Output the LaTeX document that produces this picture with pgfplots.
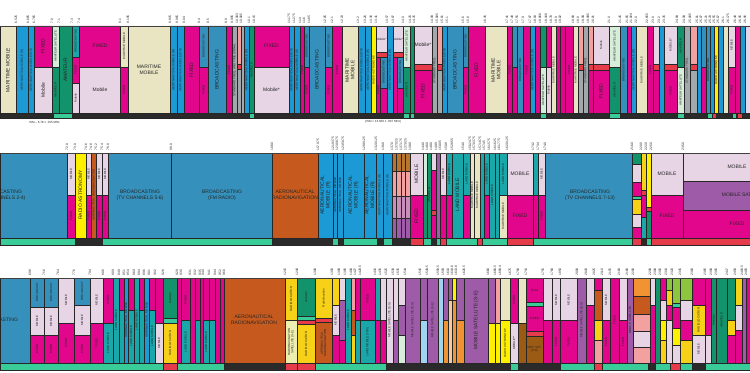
\documentclass[border=0pt]{standalone}
\usepackage{pgfplots}
\pgfplotsset{compat=1.18}
\usepackage{fontspec}
\setmainfont{Liberation Sans}
\definecolor{mm}{HTML}{E9E5C3}
\definecolor{am}{HTML}{1B9AD6}
\definecolor{bc}{HTML}{3591BC}
\definecolor{fx}{HTML}{E2068C}
\definecolor{mo}{HTML}{E7D5E6}
\definecolor{amt}{HTML}{12936B}
\definecolor{ams}{HTML}{D6EED9}
\definecolor{ylw}{HTML}{FFF000}
\definecolor{rl}{HTML}{F7D117}
\definecolor{arn}{HTML}{C65A1E}
\definecolor{ms}{HTML}{9E5BA7}
\definecolor{lm}{HTML}{19A7A9}
\definecolor{rd}{HTML}{E63B4A}
\definecolor{gy}{HTML}{A2A8AC}
\definecolor{sr}{HTML}{F3A1A0}
\definecolor{mint}{HTML}{39CC98}
\definecolor{dk}{HTML}{2A2A2A}
\definecolor{brn}{HTML}{9C5B14}
\definecolor{brn2}{HTML}{B7752E}
\definecolor{pv}{HTML}{C98DB9}
\definecolor{lb}{HTML}{9FD3EE}
\definecolor{org}{HTML}{F19233}
\definecolor{rns}{HTML}{EDEFB0}
\definecolor{ygr}{HTML}{8CC63E}
\definecolor{pch}{HTML}{F7C99A}
\newcommand{\Rc}[5]{\addplot[fill=#5,draw=black!85,line width=0.35pt] coordinates {(#1,#3) (#2,#3) (#2,#4) (#1,#4) (#1,#3)};}
\newcommand{\F}[3]{\node[fl] at (axis cs:#1,#2) {#3};}
\begin{document}
\begin{tikzpicture}[
  hl/.style={font=\fontsize{5}{5.6}\selectfont, align=center, inner sep=0pt, text=black!85},
  rlb/.style={hl, rotate=90},
  rs/.style={font=\fontsize{3}{3.4}\selectfont, align=center, inner sep=0pt, text=black!85, rotate=90},
  hs/.style={font=\fontsize{3}{3.4}\selectfont, align=center, inner sep=0pt, text=black!85},
  fl/.style={font=\fontsize{3.3}{3.6}\selectfont, rotate=90, anchor=west, inner sep=0.3pt, text=black!85},
]
\begin{axis}[
  width=750bp, height=372bp, scale only axis,
  xmin=0, xmax=750, ymin=0, ymax=372, y dir=reverse,
  hide axis, clip=true,
]
\addplot[fill=white,draw=none] coordinates {(0,0) (750,0) (750,372) (0,372) (0,0)};
% ================= ROW 1 =================
\Rc{0}{16}{26}{113}{mm}
\Rc{16}{28}{26}{113}{am}
\Rc{28}{34}{26}{113}{am}
\Rc{34}{52}{26}{67}{fx} \Rc{34}{52}{67}{113}{mo}
\Rc{52}{59}{26}{67}{ams} \Rc{52}{59}{67}{113}{amt}
\Rc{59}{72}{26}{113}{amt}
\Rc{72}{79}{26}{57}{lm} \Rc{72}{79}{57}{83}{fx} \Rc{72}{79}{83}{113}{mo}
\Rc{79}{120}{26}{67}{fx} \Rc{79}{120}{67}{113}{mo}
\Rc{120}{128}{26}{67}{mm} \Rc{120}{128}{67}{113}{fx}
\Rc{128}{170}{26}{113}{mm}
\Rc{170}{177}{26}{113}{am}
\Rc{177}{184}{26}{113}{am}
\Rc{184}{199}{26}{113}{fx}
\Rc{199}{208}{26}{67}{bc} \Rc{199}{208}{67}{113}{fx}
\Rc{208}{226}{26}{113}{bc}
\Rc{226}{232}{26}{113}{fx}
\Rc{232}{237}{26}{113}{gy}
\Rc{237}{241}{26}{64}{sr} \Rc{237}{241}{64}{69}{rd} \Rc{237}{241}{69}{113}{gy}
\Rc{241}{244}{26}{113}{gy}
\Rc{244}{249}{26}{113}{am}
\Rc{249}{254}{26}{113}{amt}
\Rc{254}{289}{26}{67}{fx} \Rc{254}{289}{67}{113}{mo}
\Rc{289}{294}{26}{113}{am}
\Rc{294}{300}{26}{113}{am}
\Rc{300}{304}{26}{113}{fx}
\Rc{304}{309}{26}{67}{bc} \Rc{304}{309}{67}{113}{fx}
\Rc{309}{325}{26}{113}{bc}
\Rc{325}{332}{26}{67}{bc} \Rc{325}{332}{67}{113}{fx}
\Rc{332}{342}{26}{113}{fx}
\Rc{342}{358}{26}{113}{mm}
\Rc{358}{365}{26}{113}{am}
\Rc{365}{371}{26}{113}{am}
\Rc{371}{376}{26}{113}{ylw}
\Rc{376}{387}{26}{52}{mo} \Rc{376}{387}{52}{57}{rd} \Rc{376}{380}{57}{113}{fx} \Rc{380}{387}{57}{88}{bc} \Rc{380}{387}{88}{113}{fx}
\Rc{387}{393}{26}{113}{am}
\Rc{393}{403}{26}{52}{mo} \Rc{393}{403}{52}{57}{rd} \Rc{393}{397}{57}{113}{fx} \Rc{397}{403}{57}{88}{bc} \Rc{397}{403}{88}{113}{fx}
\Rc{403}{410}{26}{67}{ams} \Rc{403}{410}{67}{113}{amt}
\Rc{410}{414}{26}{113}{amt}
\Rc{414}{432}{26}{64}{mo} \Rc{414}{432}{64}{70}{rd} \Rc{414}{432}{70}{113}{fx}
\Rc{432}{437}{26}{113}{gy}
\Rc{437}{442}{26}{64}{sr} \Rc{437}{442}{64}{70}{rd} \Rc{437}{442}{70}{113}{gy}
\Rc{442}{447}{26}{113}{am}
\Rc{447}{463}{26}{113}{bc}
\Rc{463}{468}{26}{67}{bc} \Rc{463}{468}{67}{113}{fx}
\Rc{468}{485}{26}{113}{fx}
\Rc{485}{507}{26}{113}{mm}
\Rc{507}{512}{26}{113}{fx}
\Rc{512}{517}{26}{67}{bc} \Rc{512}{517}{67}{113}{fx}
\Rc{517}{523}{26}{113}{bc}
\Rc{523}{530}{26}{113}{fx}
\Rc{530}{535}{26}{113}{am}
\Rc{535}{540}{26}{113}{fx}
\Rc{540}{546}{26}{67}{amt} \Rc{540}{546}{67}{113}{ams}
\Rc{546}{551}{26}{67}{fx} \Rc{546}{551}{67}{113}{mo}
\Rc{551}{556}{26}{113}{mm}
\Rc{556}{560}{26}{113}{fx}
\Rc{560}{565}{26}{113}{fx}
\Rc{565}{573}{26}{113}{fx}
\Rc{573}{578}{26}{113}{mm}
\Rc{578}{583}{26}{64}{sr} \Rc{578}{583}{64}{70}{rd} \Rc{578}{583}{70}{113}{gy}
\Rc{583}{588}{26}{113}{gy}
\Rc{588}{593}{26}{64}{sr} \Rc{588}{593}{64}{70}{rd} \Rc{588}{593}{70}{113}{fx}
\Rc{593}{609}{26}{64}{mo} \Rc{593}{609}{64}{70}{rd} \Rc{593}{609}{70}{113}{fx}
\Rc{609}{620}{26}{67}{ams} \Rc{609}{620}{67}{113}{amt}
\Rc{620}{627}{26}{113}{bc}
\Rc{627}{631}{26}{113}{fx}
\Rc{631}{636}{26}{113}{am}
\Rc{636}{647}{26}{113}{mm}
\Rc{647}{653}{26}{113}{fx}
\Rc{653}{659}{26}{64}{mo} \Rc{653}{659}{64}{70}{rd} \Rc{653}{659}{70}{113}{fx}
\Rc{659}{664}{26}{113}{am}
\Rc{664}{677}{26}{64}{mo} \Rc{664}{677}{64}{70}{rd} \Rc{664}{677}{70}{113}{fx}
\Rc{677}{684}{26}{67}{amt} \Rc{677}{684}{67}{113}{ams}
\Rc{684}{690}{26}{113}{gy}
\Rc{690}{697}{26}{64}{sr} \Rc{690}{697}{64}{70}{rd} \Rc{690}{697}{70}{113}{gy}
\Rc{697}{701}{26}{113}{am}
\Rc{701}{706}{26}{67}{bc} \Rc{701}{706}{67}{113}{fx}
\Rc{706}{710}{26}{113}{bc}
\Rc{710}{714}{26}{113}{am}
\Rc{714}{718}{26}{113}{ylw}
\Rc{718}{723}{26}{113}{am}
\Rc{723}{728}{26}{113}{mm}
\Rc{728}{735}{26}{67}{mo} \Rc{728}{735}{67}{113}{fx}
\Rc{735}{740}{26}{113}{fx}
\Rc{740}{745}{26}{113}{am}
\Rc{745}{750}{26}{113}{mo}
% row 1 strip
\Rc{0}{750}{113}{118}{dk}
\Rc{53}{72}{113}{118}{mint} \Rc{249}{254}{113}{118}{mint} \Rc{403}{409}{113}{118}{mint} \Rc{410}{414}{113}{118}{mint}
\Rc{540}{546}{113}{118}{mint} \Rc{609}{620}{113}{118}{mint} \Rc{677}{684}{113}{118}{mint}
\Rc{707}{712}{113}{118}{mint} \Rc{712}{716}{113}{118}{rd} \Rc{732}{736}{113}{118}{mint} \Rc{737}{742}{113}{118}{rd}
\addplot[draw=black!75,line width=1pt] coordinates {(0,26) (750,26)};
% ================= ROW 2 =================
\Rc{0}{67}{153}{238}{bc}
\Rc{67}{75}{153}{195}{mo} \Rc{67}{75}{195}{238}{fx}
\Rc{75}{86}{153}{238}{ylw}
\Rc{86}{91}{153}{195}{mo} \Rc{86}{91}{195}{238}{fx}
\Rc{91}{96}{153}{238}{arn}
\Rc{96}{102}{153}{195}{mo} \Rc{96}{102}{195}{238}{fx}
\Rc{102}{108}{153}{195}{mo} \Rc{102}{108}{195}{238}{fx}
\Rc{108}{171}{153}{238}{bc}
\Rc{171}{272}{153}{238}{bc}
\Rc{272}{318}{153}{238}{arn}
\Rc{318}{333}{153}{238}{am}
\Rc{333}{337}{153}{238}{am}
\Rc{337}{343}{153}{238}{am}
\Rc{343}{364}{153}{238}{am}
\Rc{364}{376}{153}{238}{am}
\Rc{376}{383}{153}{238}{am}
\Rc{383}{392}{153}{238}{am}
\Rc{392}{396.5}{153}{171}{brn2} \Rc{392}{396.5}{171}{196}{sr} \Rc{392}{396.5}{196}{218}{pv} \Rc{392}{396.5}{218}{238}{ms}
\Rc{396.5}{401}{153}{171}{brn2} \Rc{396.5}{401}{171}{196}{sr} \Rc{396.5}{401}{196}{218}{pv} \Rc{396.5}{401}{218}{238}{ms}
\Rc{401}{405.5}{153}{171}{brn2} \Rc{401}{405.5}{171}{196}{sr} \Rc{401}{405.5}{196}{218}{pv} \Rc{401}{405.5}{218}{238}{ms}
\Rc{405.5}{410}{153}{171}{brn2} \Rc{405.5}{410}{171}{196}{sr} \Rc{405.5}{410}{196}{218}{pv} \Rc{405.5}{410}{218}{238}{ms}
\Rc{410}{423}{153}{195}{mo} \Rc{410}{423}{195}{238}{fx}
\Rc{423}{427}{153}{195}{ams} \Rc{423}{427}{195}{238}{amt}
\Rc{427}{431}{153}{238}{amt}
\Rc{431}{436}{153}{170}{mo} \Rc{431}{436}{170}{210}{fx} \Rc{431}{436}{210}{215}{rd} \Rc{431}{436}{215}{238}{fx}
\Rc{436}{440}{153}{238}{ms}
\Rc{440}{446}{153}{195}{mo} \Rc{440}{446}{195}{238}{fx}
\Rc{446}{452}{153}{195}{lm} \Rc{446}{452}{195}{238}{fx}
\Rc{452}{463}{153}{238}{lm}
\Rc{463}{470}{153}{195}{lm} \Rc{463}{470}{195}{238}{fx}
\Rc{470}{474}{153}{238}{mm}
\Rc{474}{480}{153}{238}{mm}
\Rc{480}{484}{153}{238}{lm}
\Rc{484}{489}{153}{195}{lm} \Rc{484}{489}{195}{238}{fx}
\Rc{489}{495}{153}{238}{lm}
\Rc{495}{499}{153}{238}{lm}
\Rc{499}{507}{153}{195}{lm} \Rc{499}{507}{195}{238}{mm}
\Rc{507}{533}{153}{195}{mo} \Rc{507}{533}{195}{238}{fx}
\Rc{533}{538}{153}{195}{lm} \Rc{533}{538}{195}{238}{fx}
\Rc{538}{545}{153}{195}{mo} \Rc{538}{545}{195}{238}{fx}
\Rc{545}{632}{153}{238}{bc}
\Rc{632}{641}{153}{164}{amt} \Rc{632}{641}{164}{182}{mo} \Rc{632}{641}{182}{196}{fx} \Rc{632}{641}{196}{199}{mint} \Rc{632}{641}{199}{214}{rl} \Rc{632}{641}{214}{227}{mo} \Rc{632}{641}{227}{238}{fx}
\Rc{641}{646}{153}{190}{rl} \Rc{641}{646}{190}{195}{rd} \Rc{641}{646}{195}{217}{fx} \Rc{641}{646}{217}{238}{lm}
\Rc{646}{651}{153}{207}{ylw} \Rc{646}{651}{207}{211}{rd} \Rc{646}{651}{211}{238}{amt}
\Rc{651}{683}{153}{195}{mo} \Rc{651}{683}{195}{238}{fx}
\Rc{683}{750}{153}{181}{mo} \Rc{683}{750}{181}{210}{ms} \Rc{683}{750}{210}{238}{fx}
% row 2 strip
\Rc{0}{750}{238}{245}{mint}
\Rc{75}{102}{238}{245}{dk} \Rc{272}{332}{238}{245}{dk} \Rc{338}{343}{238}{245}{dk} \Rc{377}{383}{238}{245}{dk}
\Rc{392}{410}{238}{245}{dk} \Rc{410}{423}{238}{245}{rd} \Rc{431}{436}{238}{245}{dk} \Rc{440}{446}{238}{245}{rd}
\Rc{477}{482}{238}{245}{rd} \Rc{507}{533}{238}{245}{rd} \Rc{632}{641}{238}{245}{rd} \Rc{641}{646}{238}{245}{dk}
\Rc{651}{750}{238}{245}{rd}
\addplot[draw=black!75,line width=1pt] coordinates {(0,153) (750,153)};
% ================= ROW 3 =================
\Rc{0}{30}{278}{363}{bc}
\Rc{30}{44}{278}{307}{bc} \Rc{30}{44}{307}{335}{mo} \Rc{30}{44}{335}{363}{fx}
\Rc{44}{58}{278}{307}{bc} \Rc{44}{58}{307}{335}{mo} \Rc{44}{58}{335}{363}{fx}
\Rc{58}{74}{278}{323}{mo} \Rc{58}{74}{323}{363}{fx}
\Rc{74}{90}{278}{305}{bc} \Rc{74}{90}{305}{335}{mo} \Rc{74}{90}{335}{363}{fx}
\Rc{90}{103}{278}{323}{mo} \Rc{90}{103}{323}{363}{fx}
\Rc{103}{113}{278}{323}{fx} \Rc{103}{113}{323}{363}{lm}
\Rc{113}{119}{278}{363}{lm}
\Rc{119}{124}{278}{310}{fx} \Rc{119}{124}{310}{363}{lm}
\Rc{124}{128}{278}{363}{am}
\Rc{128}{134}{278}{310}{fx} \Rc{128}{134}{310}{363}{lm}
\Rc{134}{139}{278}{363}{lm}
\Rc{139}{144}{278}{310}{fx} \Rc{139}{144}{310}{363}{lm}
\Rc{144}{149}{278}{363}{am}
\Rc{149}{155}{278}{310}{fx} \Rc{149}{155}{310}{363}{lm}
\Rc{155}{163}{278}{323}{fx} \Rc{155}{163}{323}{363}{mo}
\Rc{163}{177}{278}{318}{amt} \Rc{163}{177}{318}{323}{mint} \Rc{163}{177}{323}{363}{rl}
\Rc{177}{181}{278}{363}{fx}
\Rc{181}{190}{278}{320}{fx} \Rc{181}{190}{320}{363}{lm}
\Rc{190}{195}{278}{363}{fx}
\Rc{195}{200}{278}{320}{fx} \Rc{195}{200}{320}{363}{lm}
\Rc{200}{203}{278}{363}{fx}
\Rc{203}{209}{278}{320}{fx} \Rc{203}{209}{320}{363}{lm}
\Rc{209}{215}{278}{320}{fx} \Rc{209}{215}{320}{363}{lm}
\Rc{215}{220}{278}{363}{fx}
\Rc{220}{224}{278}{363}{fx}
\Rc{224}{285}{278}{363}{arn}
\Rc{285}{297}{278}{320}{rl} \Rc{285}{297}{320}{363}{rns}
\Rc{297}{315}{278}{316}{amt} \Rc{297}{315}{316}{320}{mint} \Rc{297}{315}{320}{324}{rd} \Rc{297}{315}{324}{363}{rl}
\Rc{315}{332}{278}{318}{rl} \Rc{315}{332}{318}{322}{rd} \Rc{315}{332}{322}{363}{arn}
\Rc{332}{339}{278}{305}{rl} \Rc{332}{339}{305}{335}{mo} \Rc{332}{339}{335}{363}{fx}
\Rc{339}{345}{278}{300}{mo} \Rc{339}{345}{300}{340}{ms} \Rc{339}{345}{340}{363}{fx}
\Rc{345}{351}{278}{363}{lm}
\Rc{351}{355}{278}{310}{sr} \Rc{351}{355}{310}{335}{arn} \Rc{351}{355}{335}{363}{rl}
\Rc{355}{360}{278}{320}{fx} \Rc{355}{360}{320}{363}{lm}
\Rc{360}{375}{278}{320}{fx} \Rc{360}{375}{320}{363}{lm}
\Rc{375}{380}{278}{320}{lm} \Rc{375}{380}{320}{363}{fx}
\Rc{380}{386}{278}{320}{mo} \Rc{380}{386}{320}{363}{fx}
\Rc{386}{393}{278}{363}{mo}
\Rc{393}{398}{278}{320}{mo} \Rc{393}{398}{320}{363}{ms}
\Rc{398}{405}{278}{305}{mo} \Rc{398}{405}{305}{335}{ms} \Rc{398}{405}{335}{363}{ams}
\Rc{405}{420}{278}{363}{ms}
\Rc{420}{427}{278}{320}{ms} \Rc{420}{427}{320}{363}{lb}
\Rc{427}{438}{278}{363}{ms}
\Rc{438}{443}{278}{363}{lb}
\Rc{443}{448}{278}{320}{ms} \Rc{443}{448}{320}{363}{org}
\Rc{448}{452}{278}{300}{ms} \Rc{448}{452}{300}{363}{pch}
\Rc{452}{456}{278}{300}{ylw} \Rc{452}{456}{300}{363}{org}
\Rc{456}{464}{278}{320}{ms} \Rc{456}{464}{320}{363}{org}
\Rc{464}{488}{278}{363}{ms}
\Rc{488}{495}{278}{323}{ms} \Rc{488}{495}{323}{363}{ylw}
\Rc{495}{500}{278}{323}{sr} \Rc{495}{500}{323}{363}{ylw}
\Rc{500}{510}{278}{320}{mm} \Rc{500}{510}{320}{363}{ylw}
\Rc{510}{518}{278}{323}{fx} \Rc{510}{518}{323}{363}{mo}
\Rc{518}{526}{278}{323}{mm} \Rc{518}{526}{323}{363}{brn}
\Rc{526}{543}{278}{302}{fx} \Rc{526}{543}{302}{306}{mint} \Rc{526}{543}{306}{331}{fx} \Rc{526}{543}{331}{336}{rd} \Rc{526}{543}{336}{363}{brn}
\Rc{543}{552}{278}{320}{mo} \Rc{543}{552}{320}{363}{fx}
\Rc{552}{560}{278}{320}{mo} \Rc{552}{560}{320}{363}{fx}
\Rc{560}{577}{278}{320}{mo} \Rc{560}{577}{320}{363}{fx}
\Rc{577}{586}{278}{363}{ms}
\Rc{586}{594}{278}{305}{mo} \Rc{586}{594}{305}{363}{fx}
\Rc{594}{602}{278}{290}{fx} \Rc{594}{602}{290}{320}{arn} \Rc{594}{602}{320}{340}{rl} \Rc{594}{602}{340}{363}{sr}
\Rc{602}{610}{278}{320}{mo} \Rc{602}{610}{320}{363}{fx}
\Rc{610}{619}{278}{363}{fx}
\Rc{619}{627}{278}{320}{mo} \Rc{619}{627}{320}{363}{fx}
\Rc{627}{633}{278}{363}{ms}
\Rc{633}{650}{278}{296}{org} \Rc{633}{650}{296}{314}{arn} \Rc{633}{650}{314}{331}{sr} \Rc{633}{650}{331}{347}{mo} \Rc{633}{650}{347}{363}{sr}
\Rc{650}{655}{278}{305}{mo} \Rc{650}{655}{305}{363}{fx}
\Rc{655}{660}{278}{363}{amt}
\Rc{660}{666}{278}{300}{fx} \Rc{660}{666}{300}{320}{mo} \Rc{660}{666}{320}{340}{ylw} \Rc{660}{666}{340}{363}{rl}
\Rc{666}{672}{278}{290}{ygr} \Rc{666}{672}{290}{305}{rl} \Rc{666}{672}{305}{320}{fx} \Rc{666}{672}{320}{363}{mo}
\Rc{672}{680}{278}{303}{ygr} \Rc{672}{680}{303}{307}{mint} \Rc{672}{680}{307}{328}{fx} \Rc{672}{680}{328}{345}{ylw} \Rc{672}{680}{345}{363}{mo}
\Rc{680}{692}{278}{300}{ygr} \Rc{680}{692}{300}{320}{mo} \Rc{680}{692}{320}{340}{fx} \Rc{680}{692}{340}{363}{rl}
\Rc{692}{705}{278}{305}{fx} \Rc{692}{705}{305}{335}{rl} \Rc{692}{705}{335}{363}{mo}
\Rc{705}{711}{278}{335}{fx} \Rc{705}{711}{335}{363}{mo}
\Rc{711}{716}{278}{363}{amt}
\Rc{716}{727}{278}{363}{amt}
\Rc{727}{735}{278}{320}{amt} \Rc{727}{735}{320}{335}{rl} \Rc{727}{735}{335}{363}{fx}
\Rc{735}{742}{278}{305}{rl} \Rc{735}{742}{305}{330}{mo} \Rc{735}{742}{330}{363}{fx}
\Rc{742}{746}{278}{363}{ms}
\Rc{746}{750}{278}{363}{fx}
% row 3 strip
\Rc{0}{750}{363}{370}{mint}
\Rc{163}{177}{363}{370}{rd} \Rc{224}{285}{363}{370}{dk} \Rc{285}{297}{363}{370}{rd} \Rc{297}{315}{363}{370}{rd}
\Rc{386}{510}{363}{370}{dk} \Rc{518}{560}{363}{370}{dk} \Rc{594}{602}{363}{370}{rd} \Rc{648}{655}{363}{370}{dk}
\Rc{670}{680}{363}{370}{rd} \Rc{692}{705}{363}{370}{dk}
\addplot[draw=black!75,line width=1pt] coordinates {(0,278) (750,278)};
% ================= LABELS ROW 1 =================
\node[rlb] at (axis cs:8,70) {MARITIME MOBILE};
\node[rs] at (axis cs:22,70) {AERONAUTICAL MOBILE (R)};
\node[rs] at (axis cs:31,70) {AERONAUTICAL MOBILE (OR)};
\node[rlb] at (axis cs:43,46) {FIXED};
\node[rlb] at (axis cs:43,90) {Mobile};
\node[rs] at (axis cs:55.5,46) {AMATEUR SATELLITE};
\node[rs] at (axis cs:55.5,90) {AMATEUR};
\node[rlb] at (axis cs:65.5,70) {AMATEUR};
\node[rs] at (axis cs:75.5,41) {BROADCASTING};
\node[rs] at (axis cs:75.5,70) {FIXED};
\node[rs] at (axis cs:75.5,98) {Mobile};
\node[hl] at (axis cs:100,46) {FIXED};
\node[hl] at (axis cs:100,90) {Mobile};
\node[rs] at (axis cs:124,46) {MARITIME MOBILE};
\node[rs] at (axis cs:124,90) {FIXED};
\node[hl] at (axis cs:149,70) {MARITIME\\MOBILE};
\node[rs] at (axis cs:173.5,70) {AERONAUTICAL MOBILE (R)};
\node[rs] at (axis cs:180.5,70) {AERONAUTICAL MOBILE (OR)};
\node[rlb] at (axis cs:191.5,70) {FIXED};
\node[rs] at (axis cs:203.5,46) {BROADCASTING};
\node[rs] at (axis cs:203.5,90) {FIXED};
\node[rlb] at (axis cs:217,70) {BROADCASTING};
\node[rs] at (axis cs:229,70) {FIXED};
\node[rs] at (axis cs:234.5,70) {STANDARD FREQ. AND TIME SIGNAL};
\node[rs] at (axis cs:246.5,70) {AERONAUTICAL MOBILE (R)};
\node[rs] at (axis cs:251.5,70) {AMATEUR};
\node[hl] at (axis cs:271.5,46) {FIXED};
\node[hl] at (axis cs:271.5,90) {Mobile*};
\node[rs] at (axis cs:291.5,70) {AERONAUTICAL MOBILE (OR)};
\node[rs] at (axis cs:297,70) {AERONAUTICAL MOBILE (R)};
\node[rs] at (axis cs:302,70) {FIXED};
\node[rs] at (axis cs:306.5,46) {BROADCASTING};
\node[rs] at (axis cs:306.5,90) {FIXED};
\node[rlb] at (axis cs:317,70) {BROADCASTING};
\node[rs] at (axis cs:328.5,46) {BROADCASTING};
\node[rs] at (axis cs:328.5,90) {FIXED};
\node[rs] at (axis cs:337,70) {FIXED};
\node[rlb] at (axis cs:350,70) {MARITIME\\MOBILE};
\node[rs] at (axis cs:361.5,70) {AERONAUTICAL MOBILE (OR)};
\node[rs] at (axis cs:368,70) {AERONAUTICAL MOBILE (R)};
\node[rs] at (axis cs:373.5,70) {RADIO ASTRONOMY};
\node[hs] at (axis cs:381.5,39) {Mobile*};
\node[rs] at (axis cs:383.5,72) {BROADCASTING};
\node[rs] at (axis cs:378,90) {FIXED};
\node[rs] at (axis cs:390,70) {AERONAUTICAL MOBILE (R)};
\node[hs] at (axis cs:398,39) {Mobile*};
\node[rs] at (axis cs:400,72) {BROADCASTING};
\node[rs] at (axis cs:406.5,46) {AMATEUR SATELLITE};
\node[rs] at (axis cs:406.5,90) {AMATEUR};
\node[hl] at (axis cs:423,45) {Mobile*};
\node[rlb] at (axis cs:423,91) {FIXED};
\node[rs] at (axis cs:434.5,70) {STANDARD FREQ.};
\node[rs] at (axis cs:444.5,70) {AERONAUTICAL MOBILE (OR)};
\node[rlb] at (axis cs:455,70) {BROADCASTING};
\node[rs] at (axis cs:465.5,46) {BROADCASTING};
\node[rs] at (axis cs:465.5,90) {FIXED};
\node[rlb] at (axis cs:476.5,70) {FIXED};
\node[rlb] at (axis cs:496,70) {MARITIME\\MOBILE};
\node[rs] at (axis cs:509.5,70) {FIXED};
\node[rs] at (axis cs:520,70) {BROADCASTING};
\node[rs] at (axis cs:526.5,70) {FIXED};
\node[rs] at (axis cs:532.5,70) {AERONAUTICAL MOBILE (R)};
\node[rs] at (axis cs:543,90) {AMATEUR SATELLITE};
\node[rs] at (axis cs:548.5,90) {Mobile};
\node[rs] at (axis cs:553.5,70) {MARITIME MOBILE};
\node[rs] at (axis cs:569,70) {FIXED};
\node[rs] at (axis cs:575.5,70) {MARITIME MOBILE};
\node[rs] at (axis cs:585.5,70) {STANDARD FREQ.};
\node[rs] at (axis cs:601,45) {Mobile};
\node[rlb] at (axis cs:601,91) {FIXED};
\node[rs] at (axis cs:614.5,46) {AMATEUR SATELLITE};
\node[rs] at (axis cs:614.5,90) {AMATEUR};
\node[rs] at (axis cs:623.5,70) {BROADCASTING};
\node[rs] at (axis cs:633.5,70) {AERONAUTICAL MOBILE (R)};
\node[rs] at (axis cs:641.5,70) {MARITIME MOBILE};
\node[rs] at (axis cs:650,70) {FIXED};
\node[rs] at (axis cs:670.5,45) {MOBILE*};
\node[rs] at (axis cs:670.5,91) {FIXED};
\node[rs] at (axis cs:680.5,46) {AMATEUR};
\node[rs] at (axis cs:680.5,90) {AMATEUR SATELLITE};
\node[rs] at (axis cs:687,70) {STANDARD FREQ.};
\node[rs] at (axis cs:708,70) {BROADCASTING};
\node[rs] at (axis cs:716,70) {RADIO ASTRONOMY};
\node[rs] at (axis cs:731.5,45) {MOBILE};
\node[rs] at (axis cs:731.5,90) {FIXED};
\node[hs,anchor=west] at (axis cs:29,122) {ISM -- 6.78 ± .015 MHz};
\node[hs,anchor=west] at (axis cs:365,122) {(ISM = 13.560 ± .007 MHz)};
% frequency labels row 1
\F{16}{24}{6.525} \F{28}{24}{6.685} \F{34}{24}{6.765} \F{52}{24}{7.0} \F{59}{24}{7.1} \F{72}{24}{7.3}
\F{79}{24}{7.4} \F{120}{24}{8.1} \F{128}{24}{8.195} \F{170}{24}{8.815} \F{177}{24}{8.965} \F{184}{24}{9.04}
\F{199}{24}{9.4} \F{208}{24}{9.5} \F{226}{24}{9.9} \F{232}{24}{9.995} \F{237}{24}{10.003} \F{241}{24}{10.005}
\F{249}{24}{10.1} \F{254}{24}{10.15} \F{289}{24}{11.175} \F{294}{24}{11.275} \F{300}{24}{11.4} \F{304}{24}{11.6}
\F{309}{24}{11.65} \F{325}{24}{12.05} \F{332}{24}{12.1} \F{342}{24}{12.23} \F{358}{24}{13.2} \F{365}{24}{13.26}
\F{371}{24}{13.36} \F{376}{24}{13.41} \F{387}{24}{13.57} \F{393}{24}{13.87} \F{403}{24}{14.0} \F{410}{24}{14.25}
\F{414}{24}{14.35} \F{432}{24}{14.99} \F{437}{24}{15.005} \F{442}{24}{15.01} \F{447}{24}{15.1} \F{463}{24}{15.6}
\F{468}{24}{15.8} \F{485}{24}{16.36} \F{507}{24}{17.41} \F{512}{24}{17.48} \F{517}{24}{17.55} \F{523}{24}{17.9}
\F{530}{24}{17.97} \F{535}{24}{18.03} \F{540}{24}{18.068} \F{546}{24}{18.168} \F{551}{24}{18.78} \F{556}{24}{18.9}
\F{560}{24}{19.02} \F{573}{24}{19.68} \F{578}{24}{19.8} \F{583}{24}{19.99} \F{588}{24}{19.995} \F{593}{24}{20.01}
\F{609}{24}{21.0} \F{620}{24}{21.45} \F{627}{24}{21.85} \F{631}{24}{21.924} \F{636}{24}{22.0} \F{647}{24}{22.855}
\F{653}{24}{23.0} \F{659}{24}{23.2} \F{664}{24}{23.35} \F{677}{24}{24.89} \F{684}{24}{24.99} \F{690}{24}{25.005}
\F{697}{24}{25.01} \F{701}{24}{25.07} \F{706}{24}{25.21} \F{710}{24}{25.33} \F{714}{24}{25.55} \F{718}{24}{25.67}
\F{723}{24}{26.1} \F{728}{24}{26.175} \F{735}{24}{26.48} \F{740}{24}{26.95} \F{745}{24}{26.96}
% ================= LABELS ROW 2 =================
\node[hl] at (axis cs:2,195) {BROADCASTING\\(TV CHANNELS 2-4)};
\node[rs] at (axis cs:71,174) {MOBILE};
\node[rs] at (axis cs:71,216) {FIXED};
\node[rlb] at (axis cs:80.5,195) {RADIO ASTRONOMY};
\node[rs] at (axis cs:88.5,174) {MOBILE};
\node[rs] at (axis cs:88.5,216) {FIXED};
\node[rs] at (axis cs:93.5,195) {AERONAUTICAL RADIONAVIGATION};
\node[rs] at (axis cs:99,174) {MOBILE};
\node[rs] at (axis cs:99,216) {FIXED};
\node[rs] at (axis cs:105,174) {MOBILE};
\node[rs] at (axis cs:105,216) {FIXED};
\node[hl] at (axis cs:140,195) {BROADCASTING\\(TV CHANNELS 5-6)};
\node[hl] at (axis cs:222,195) {BROADCASTING\\(FM RADIO)};
\node[hl] at (axis cs:295,195) {AERONAUTICAL\\RADIONAVIGATION};
\node[rlb] at (axis cs:325.5,195) {AERONAUTICAL\\MOBILE (R)};
\node[rs] at (axis cs:335,195) {AERONAUTICAL MOBILE};
\node[rs] at (axis cs:340,195) {AERONAUTICAL MOBILE};
\node[rlb] at (axis cs:353.5,195) {AERONAUTICAL\\MOBILE (R)};
\node[rlb] at (axis cs:370,195) {AERONAUTICAL\\MOBILE (R)};
\node[rs] at (axis cs:379.5,195) {AERONAUTICAL MOBILE (R)};
\node[rs] at (axis cs:387.5,195) {AERONAUTICAL MOBILE (R)};
\node[rlb] at (axis cs:416.5,174) {MOBILE};
\node[rlb] at (axis cs:416.5,216) {FIXED};
\node[rs] at (axis cs:429,195) {AMATEUR};
\node[rs] at (axis cs:443,174) {MOBILE};
\node[rs] at (axis cs:449,174) {LAND MOBILE};
\node[rlb] at (axis cs:457.5,195) {LAND MOBILE};
\node[rs] at (axis cs:466.5,174) {LAND MOBILE};
\node[rs] at (axis cs:472,195) {MARITIME MOBILE};
\node[rs] at (axis cs:477,195) {MARITIME MOBILE};
\node[rs] at (axis cs:486.5,174) {LAND MOBILE};
\node[rs] at (axis cs:492,195) {LAND MOBILE};
\node[rs] at (axis cs:503,174) {LAND MOBILE};
\node[rs] at (axis cs:503,216) {MARITIME MOBILE};
\node[hl] at (axis cs:520,174) {MOBILE};
\node[hl] at (axis cs:520,216) {FIXED};
\node[rs] at (axis cs:541.5,174) {MOBILE};
\node[rs] at (axis cs:541.5,216) {FIXED};
\node[hl] at (axis cs:590,195) {BROADCASTING\\(TV CHANNELS 7-13)};
\node[hl] at (axis cs:667,174) {MOBILE};
\node[hl] at (axis cs:667,216) {FIXED};
\node[hl] at (axis cs:737,167) {MOBILE};
\node[hl] at (axis cs:745,195) {MOBILE SATELLITE};
\node[hl] at (axis cs:737,224) {FIXED};
\F{67}{151}{72.0} \F{75}{151}{73.0} \F{86}{151}{74.6} \F{91}{151}{74.8} \F{96}{151}{75.2} \F{102}{151}{75.4}
\F{108}{151}{76.0} \F{171}{151}{88.0} \F{272}{151}{108.0} \F{318}{151}{117.975} \F{333}{151}{121.9375}
\F{337}{151}{123.0875} \F{343}{151}{123.5875} \F{364}{151}{128.8125} \F{376}{151}{132.0125} \F{383}{151}{136.0}
\F{392}{151}{137.0} \F{396.5}{151}{137.025} \F{401}{151}{137.175} \F{405.5}{151}{137.825} \F{410}{151}{138.0}
\F{423}{151}{144.0} \F{427}{151}{146.0} \F{431}{151}{148.0} \F{436}{151}{149.9} \F{440}{151}{150.05}
\F{446}{151}{150.8} \F{452}{151}{152.855} \F{463}{151}{154.0} \F{470}{151}{156.2475} \F{474}{151}{157.0375}
\F{480}{151}{157.1875} \F{484}{151}{157.45} \F{489}{151}{161.575} \F{495}{151}{161.625} \F{499}{151}{161.775}
\F{507}{151}{162.0125} \F{533}{151}{173.2} \F{538}{151}{173.4} \F{545}{151}{174.0} \F{632}{151}{216.0}
\F{641}{151}{220.0} \F{646}{151}{222.0} \F{651}{151}{225.0} \F{683}{151}{235.0}
% ================= LABELS ROW 3 =================
\node[hl] at (axis cs:-2,320) {BROADCASTING};
\node[rs] at (axis cs:37,292) {BROADCAST};
\node[rs] at (axis cs:37,321) {MOBILE};
\node[rs] at (axis cs:37,349) {FIXED};
\node[rs] at (axis cs:51,292) {BROADCAST};
\node[rs] at (axis cs:51,321) {MOBILE};
\node[rs] at (axis cs:51,349) {FIXED};
\node[rs] at (axis cs:66,300) {MOBILE};
\node[rs] at (axis cs:66,343) {FIXED};
\node[rs] at (axis cs:82,291) {BROADCAST};
\node[rs] at (axis cs:82,320) {MOBILE};
\node[rs] at (axis cs:82,349) {FIXED};
\node[rs] at (axis cs:96.5,300) {MOBILE};
\node[rs] at (axis cs:96.5,343) {FIXED};
\node[rs] at (axis cs:108,300) {FIXED};
\node[rs] at (axis cs:108,343) {LAND MOBILE};
\node[rs] at (axis cs:116,320) {LAND MOBILE};
\node[rs] at (axis cs:126,320) {AERONAUTICAL MOBILE};
\node[rs] at (axis cs:131,336) {LAND MOBILE};
\node[rs] at (axis cs:136.5,320) {LAND MOBILE};
\node[rs] at (axis cs:146.5,320) {AERONAUTICAL MOBILE};
\node[rs] at (axis cs:152,336) {LAND MOBILE};
\node[rs] at (axis cs:159,343) {MOBILE};
\node[rs] at (axis cs:170,298) {Amateur};
\node[rs] at (axis cs:170,343) {RADIOLOCATION};
\node[rs] at (axis cs:185.5,300) {FIXED};
\node[rs] at (axis cs:185.5,342) {LAND MOBILE};
\node[rs] at (axis cs:206,342) {LAND MOBILE};
\node[hl] at (axis cs:254,320) {AERONAUTICAL\\RADIONAVIGATION};
\node[rs] at (axis cs:291,299) {RADIOLOCATION};
\node[rs] at (axis cs:291,342) {RADIONAVIGATION\\SATELLITE (S-E)};
\node[rs] at (axis cs:306,297) {Amateur};
\node[rs] at (axis cs:306,344) {RADIOLOCATION};
\node[rs] at (axis cs:323.5,298) {Radiolocation};
\node[rs] at (axis cs:323.5,343) {AERONAUTICAL\\RADIONAVIGATION};
\node[rs] at (axis cs:335.5,320) {MOBILE};
\node[rs] at (axis cs:348,320) {LAND MOBILE};
\node[rs] at (axis cs:367.5,299) {FIXED};
\node[rs] at (axis cs:367.5,342) {LAND MOBILE (TLM)};
\node[rs] at (axis cs:389.5,320) {MOBILE SATELLITE (E-S)};
\node[rs] at (axis cs:412.5,320) {MOBILE SATELLITE (E-S)};
\node[rs] at (axis cs:432.5,320) {MOBILE SATELLITE (S-E)};
\node[rlb] at (axis cs:476,320) {MOBILE SATELLITE (S-E)};
\node[rs] at (axis cs:505,343) {RADIO ASTRONOMY};
\node[rs] at (axis cs:514,300) {FIXED};
\node[rs] at (axis cs:514,343) {MOBILE**};
\node[hs] at (axis cs:534.5,290) {Fixed};
\node[hs] at (axis cs:534.5,318) {FIXED};
\node[hs] at (axis cs:534.5,349) {MET. SAT.\\(S-E)};
\node[rs] at (axis cs:556,300) {MOBILE};
\node[rs] at (axis cs:556,342) {FIXED};
\node[rs] at (axis cs:568.5,300) {MOBILE};
\node[rs] at (axis cs:568.5,342) {FIXED};
\node[rs] at (axis cs:581.5,320) {MOBILE SATELLITE (E-S)};
\node[rs] at (axis cs:606,300) {MOBILE};
\node[rs] at (axis cs:606,342) {FIXED};
\node[rs] at (axis cs:614.5,320) {FIXED};
\node[rs] at (axis cs:623,342) {FIXED};
\node[rs] at (axis cs:630,320) {MOBILE SATELLITE};
\node[rs] at (axis cs:698.5,320) {RADIOLOCATION};
\node[rs] at (axis cs:698.5,349) {MOBILE};
\node[rs] at (axis cs:721.5,320) {AMATEUR};
\node[rs] at (axis cs:713.5,320) {Amateur};
\F{30}{276}{698} \F{44}{276}{716} \F{58}{276}{764} \F{74}{276}{776} \F{90}{276}{794} \F{103}{276}{806}
\F{113}{276}{809} \F{119}{276}{849} \F{124}{276}{851} \F{128}{276}{854} \F{134}{276}{869} \F{139}{276}{894}
\F{144}{276}{896} \F{149}{276}{901} \F{155}{276}{902} \F{163}{276}{928} \F{177}{276}{929} \F{181}{276}{930}
\F{190}{276}{931} \F{195}{276}{932} \F{200}{276}{935} \F{203}{276}{940} \F{209}{276}{941} \F{215}{276}{944}
\F{220}{276}{952} \F{224}{276}{960} \F{285}{276}{1215} \F{297}{276}{1240} \F{315}{276}{1300} \F{332}{276}{1350}
\F{339}{276}{1390} \F{345}{276}{1395} \F{351}{276}{1400} \F{355}{276}{1427} \F{360}{276}{1429.5} \F{375}{276}{1432}
\F{380}{276}{1435} \F{386}{276}{1525} \F{393}{276}{1530} \F{398}{276}{1535} \F{405}{276}{1544} \F{420}{276}{1545}
\F{427}{276}{1549.5} \F{438}{276}{1558.5} \F{443}{276}{1559} \F{448}{276}{1610} \F{452}{276}{1610.6}
\F{456}{276}{1613.8} \F{464}{276}{1626.5} \F{488}{276}{1660} \F{495}{276}{1660.5} \F{500}{276}{1668.4}
\F{510}{276}{1675} \F{518}{276}{1700} \F{526}{276}{1710} \F{543}{276}{1755} \F{552}{276}{1780} \F{560}{276}{1850}
\F{577}{276}{2000} \F{586}{276}{2020} \F{594}{276}{2025} \F{602}{276}{2110} \F{610}{276}{2155} \F{619}{276}{2160}
\F{627}{276}{2180} \F{633}{276}{2200} \F{650}{276}{2290} \F{655}{276}{2300} \F{660}{276}{2305} \F{666}{276}{2310}
\F{672}{276}{2320} \F{680}{276}{2345} \F{692}{276}{2360} \F{705}{276}{2385} \F{711}{276}{2390} \F{716}{276}{2395}
\F{727}{276}{2417} \F{735}{276}{2450} \F{742}{276}{2483.5} \F{746}{276}{2495}
\end{axis}
\end{tikzpicture}
\end{document}
